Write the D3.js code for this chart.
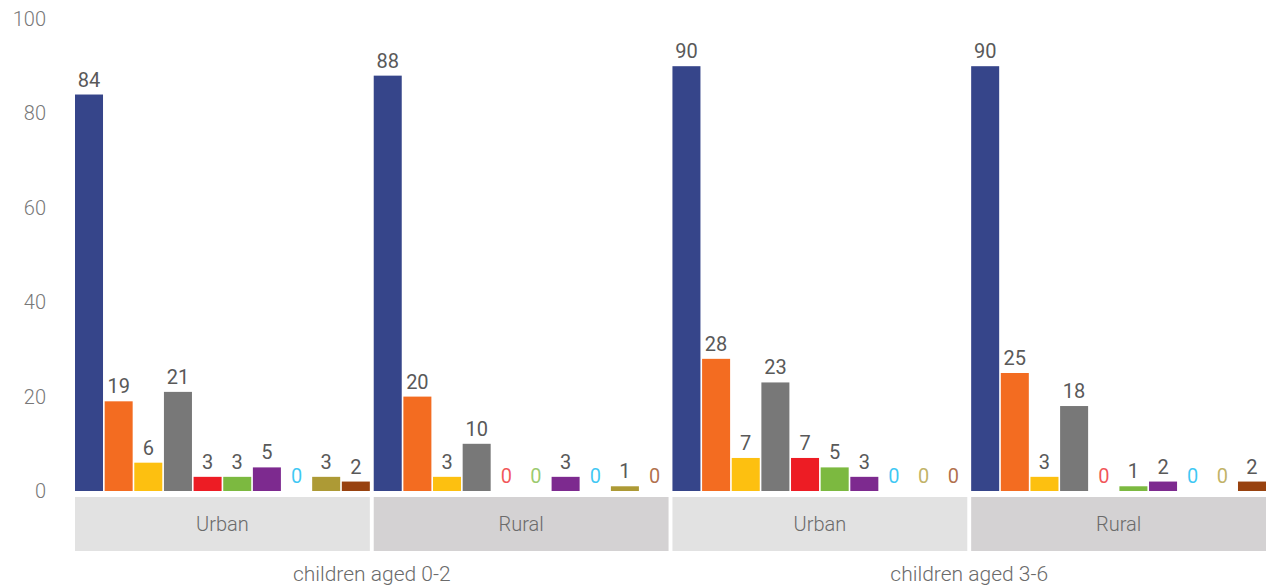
<!DOCTYPE html>
<html>
<head>
<meta charset="utf-8">
<script src="https://cdn.jsdelivr.net/npm/d3@7"></script>
<style>
  html, body { margin: 0; padding: 0; background: #fff; }
  svg { display: block; font-family: Roboto, "Noto Sans", sans-serif; }
</style>
</head>
<body>
<svg id="chart" width="1268" height="585"></svg>
<script>
// Groups along the x axis (location within age band)
const groups = ["g1", "g2", "g3", "g4"];
const locationLabels = ["Urban", "Rural", "Urban", "Rural"];
const ageBands = ["children aged 0-2", "children aged 3-6"];

// Ten series per group, values in percent
const seriesColors = ["#36458a", "#f36c21", "#fdc010", "#787878", "#ed1c24",
                      "#7cb940", "#7d2a8f", "#00b6f0", "#ad9a35", "#98420f"];
const valuesUrban02 = [84, 19, 6, 21, 3, 3, 5, 0, 3, 2];
const valuesRural02 = [88, 20, 3, 10, 0, 0, 3, 0, 1, 0];
const valuesUrban36 = [90, 28, 7, 23, 7, 5, 3, 0, 0, 0];
const valuesRural36 = [90, 25, 3, 18, 0, 1, 2, 0, 0, 2];
const groupValues = [valuesUrban02, valuesRural02, valuesUrban36, valuesRural36];

const yTicks = [0, 20, 40, 60, 80, 100];

const svg = d3.select("#chart");
const left = 75, right = 1266, y0px = 491, y100px = 19;

const y = d3.scaleLinear().domain([0, 100]).range([y0px, y100px]);
const xGroup = d3.scaleBand().domain(groups).range([left, right]).paddingInner(0.013);
const xSeries = d3.scaleBand().domain(d3.range(seriesColors.length))
  .range([0, xGroup.bandwidth()]).paddingInner(0.055);

// y axis labels, no axis line
const yAxis = d3.axisLeft(y).tickValues(yTicks).tickSize(0).tickPadding(0);
const gy = svg.append("g").attr("transform", "translate(46,0)").call(yAxis);
gy.select(".domain").remove();
gy.selectAll("text")
  .attr("fill", "#787878")
  .style("font-size", "20px")
  .style("font-weight", 300)
  .style("font-family", "Roboto, sans-serif");

// Location bands beneath bars
const bands = svg.append("g");
bands.selectAll("rect").data(groups).join("rect")
  .attr("x", d => xGroup(d))
  .attr("y", 497)
  .attr("width", xGroup.bandwidth())
  .attr("height", 54)
  .attr("fill", (d, i) => i % 2 === 0 ? "#e2e2e2" : "#d4d2d3");
bands.selectAll("text").data(groups).join("text")
  .attr("x", d => xGroup(d) + xGroup.bandwidth() / 2)
  .attr("y", 531)
  .attr("text-anchor", "middle")
  .attr("fill", "#6b6b6b")
  .style("font-size", "20px")
  .style("font-weight", 300)
  .text((d, i) => locationLabels[i]);

// Age band captions, centred under each pair of groups
svg.append("g").selectAll("text").data(ageBands).join("text")
  .attr("x", (d, i) => (xGroup(groups[i * 2]) + xGroup(groups[i * 2 + 1]) + xGroup.bandwidth()) / 2)
  .attr("y", 581)
  .attr("text-anchor", "middle")
  .attr("fill", "#6b6b6b")
  .style("font-size", "21px")
  .style("font-weight", 300)
  .text(d => d);

// Bars and value labels
groups.forEach((g, gi) => {
  const data = groupValues[gi].map((v, si) => ({ v, si }));
  const gg = svg.append("g").attr("transform", `translate(${xGroup(g)},0)`);
  gg.selectAll("rect").data(data.filter(d => d.v > 0)).join("rect")
    .attr("x", d => xSeries(d.si))
    .attr("y", d => y(d.v))
    .attr("width", xSeries.bandwidth())
    .attr("height", d => y(0) - y(d.v))
    .attr("fill", d => seriesColors[d.si]);
  gg.selectAll("text").data(data).join("text")
    .attr("x", d => xSeries(d.si) + xSeries.bandwidth() / 2)
    .attr("y", d => y(d.v) - 8)
    .attr("text-anchor", "middle")
    .attr("fill", d => d.v === 0 ? seriesColors[d.si] : "#595959")
    .attr("fill-opacity", d => d.v === 0 ? 0.75 : 1)
    .style("font-size", "20px")
    .text(d => d.v);
});
</script>
</body>
</html>
